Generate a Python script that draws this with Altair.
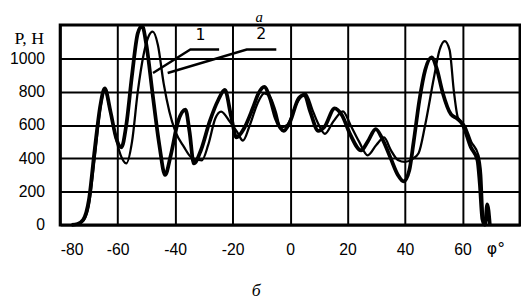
import altair as alt
import pandas as pd

# curve 1 (thick)
phi1 = [-76,-74,-72,-70,-68,-66,-64.5,-62.5,-60.5,-58.7,
        -57,-55,-53,-51.5,-50,-47.8,-45.5,-43.5,-41.5,-39,
        -36.4,-35,-33.5,-31,-28,-25,-22.7,-20.5,-18.7,-16,
        -13,-11,-9,-7,-5,-2.2,0,3,5,7,
        9.8,12,15.5,18,21,24.7,27,29.8,32,35,
        37.5,39.5,41.5,43,45,47,49.2,51,53,56,
        58,60,62.9,65.2,66,66.9,67.8,68.6,69.5]
p1 = [0,5,30,150,450,720,820,680,520,466,
      600,900,1150,1195,1080,780,480,300,420,620,
      692,560,369,450,620,750,810,650,525,580,
      700,790,829,760,640,565,620,760,780,680,
      565,590,700,660,540,447,500,575,520,400,
      300,261,330,500,750,930,1006,940,800,663,
      640,604,466,388,250,35,0,124,0]

# curve 2 (thin)
phi2 = [-76,-74,-72,-70,-68,-66,-64.5,-63,-61,-59,
        -57,-55,-53,-51,-49.3,-47.8,-46,-44,-42,-40,
        -37,-34,-30.7,-28.5,-26,-24,-21,-18.5,-16.4,-14,
        -11.3,-9,-7,-5,-3.3,-1,2,5.3,8,10,
        12.1,15,18.4,21,24,27,30,32.7,35,37.5,
        40,42.5,44.7,47,50,52,53.8,55.5,57,58.4,
        61,63,65.5,66.5,67.3,68.2]
p2 = [0,5,25,120,400,700,810,720,550,420,
      369,500,800,1020,1130,1160,1080,850,680,565,
      470,400,388,480,640,680,620,560,506,600,
      731,790,770,680,584,600,720,790,680,600,
      547,620,682,600,500,418,480,525,450,390,
      378,395,430,600,880,1050,1104,1050,800,643,
      590,500,420,300,30,0]

x_ticks = [-80, -60, -40, -20, 0, 20, 40, 60]
y_ticks = [0, 200, 400, 600, 800, 1000]

# leader lines for curve labels
leader_x = [-47.7, -34.7, -24.7, -42.6, -15.1, -4.8]
leader_y = [912, 1053, 1053, 912, 1053, 1053]
leader_id = ["1", "1", "1", "2", "2", "2"]
label_txt = ["1", "2"]
label_x = [-31.2, -10]
label_y = [1141, 1147]

W, H = 467, 203

df1 = pd.DataFrame({"phi": phi1, "p": p1})
df2 = pd.DataFrame({"phi": phi2, "p": p2})
dlead = pd.DataFrame({"x": leader_x, "y": leader_y, "id": leader_id,
                      "o": list(range(len(leader_x)))})
dlab = pd.DataFrame({"t": label_txt, "x": label_x, "y": label_y})

xs = alt.Scale(domain=[-80, 80], nice=False, zero=False)
ys = alt.Scale(domain=[0, 1200], nice=False)

lab_expr = "datum.value < 0 ? '-' + abs(datum.value) : '' + datum.value"

xax = alt.Axis(values=x_ticks, labelExpr=lab_expr, title="φ°", titleX=442, titleY=24,
               titleAlign="center", titleBaseline="middle", titleFontWeight="normal",
               titleFont="DejaVu Sans", titleFontSize=16, labelPadding=17)
yax = alt.Axis(values=y_ticks, labelExpr=lab_expr, title="P, H", titleAngle=0, titleX=-17, titleY=14,
               titleAlign="right", titleBaseline="middle", titleFontWeight="normal",
               titleFont="Liberation Serif", titleFontSize=18, labelPadding=16)

base1 = alt.Chart(df1).mark_line(color="black", strokeWidth=3.8, interpolate="monotone").encode(
    x=alt.X("phi:Q", scale=xs, axis=xax),
    y=alt.Y("p:Q", scale=ys, axis=yax),
)
line2 = alt.Chart(df2).mark_line(color="black", strokeWidth=2.3, interpolate="monotone").encode(
    x=alt.X("phi:Q", scale=xs),
    y=alt.Y("p:Q", scale=ys),
)
lead = alt.Chart(dlead).mark_line(color="black", strokeWidth=2.4).encode(
    x=alt.X("x:Q", scale=xs), y=alt.Y("y:Q", scale=ys), detail="id:N", order="o:Q"
)
labs = alt.Chart(dlab).mark_text(font="DejaVu Sans", fontSize=16, color="black").encode(
    x=alt.X("x:Q", scale=xs), y=alt.Y("y:Q", scale=ys), text="t:N"
)
top_t = alt.Chart(pd.DataFrame({"t": ["a"]})).mark_text(
    font="Liberation Serif", fontSize=15, fontStyle="italic", color="black",
    baseline="middle").encode(
    x=alt.value(202), y=alt.value(-8), text="t:N")
bot_t = alt.Chart(pd.DataFrame({"t": ["б"]})).mark_text(
    font="Liberation Serif", fontSize=18, fontStyle="italic", color="black",
    baseline="alphabetic").encode(
    x=alt.value(199), y=alt.value(275), text="t:N")

chart = alt.layer(base1, line2, lead, labs, top_t, bot_t).properties(
    width=W, height=H,
    background="white",
    autosize=alt.AutoSizeParams(type="none"),
    padding={"left": 53, "top": 15, "right": 1, "bottom": 76},
).configure_view(
    stroke="black", strokeWidth=3
).configure_axis(
    grid=True, gridColor="black", gridWidth=2, gridOpacity=1,
    domain=False, ticks=False,
    labelFont="Liberation Sans", labelFontSize=16, labelColor="black", titleColor="black",
)

chart.save("out.html", embed_options={"renderer": "svg", "actions": False})
